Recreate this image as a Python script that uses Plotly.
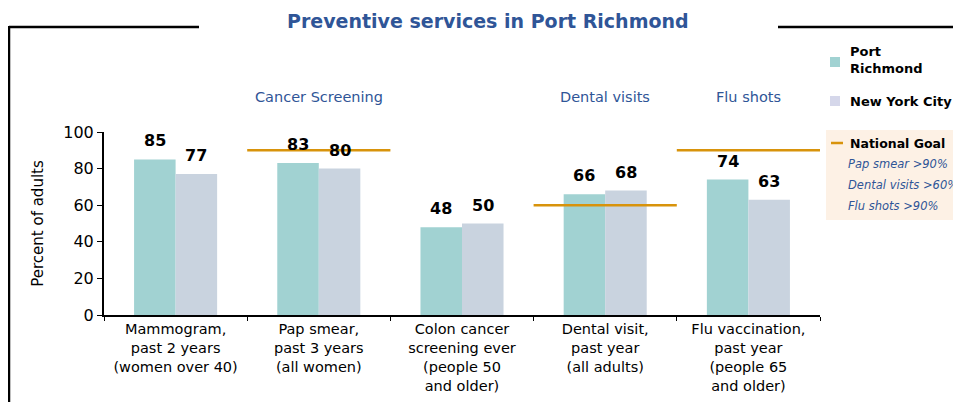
import plotly.graph_objects as go

categories = ["Mammogram,<br>past 2 years<br>(women over 40)",
              "Pap smear,<br>past 3 years<br>(all women)",
              "Colon cancer<br>screening ever<br>(people 50<br>and older)",
              "Dental visit,<br>past year<br>(all adults)",
              "Flu vaccination,<br>past year<br>(people 65<br>and older)"]
port_richmond = [85, 83, 48, 66, 74]
new_york_city = [77, 80, 50, 68, 63]
national_goal = [None, 90, None, 60, 90]
group_labels = ["Cancer Screening", "Dental visits", "Flu shots"]
group_centers = [1, 3, 4]
goal_items = ["Pap smear >90%", "Dental visits >60%", "Flu shots >90%"]

FONT = "DejaVu Sans"
TEAL = "#A1D2D2"
GREY = "#C9D3DF"
ORANGE = "#D8930B"
BLUE = "#2F5597"

W, H = 961, 402
OFF = 8  # page body margin
PL, PR, PT, PB = 104, 820, 132, 315  # plot area in screenshot pixels
BARGAP = 0.42

def px(x): return (x - PL) / (PR - PL)
def py(y): return (PB - y) / (PB - PT)

fig = go.Figure()
fig.add_trace(go.Bar(x=categories, y=port_richmond, name="Port Richmond",
                     marker=dict(color=TEAL, line=dict(width=0))))
fig.add_trace(go.Bar(x=categories, y=new_york_city, name="New York City",
                     marker=dict(color=GREY, line=dict(width=0))))

shapes = []
for i, g in enumerate(national_goal):
    if g is not None:
        shapes.append(dict(type="line", xref="x", yref="y", x0=i - 0.5, x1=i + 0.5,
                           y0=g, y1=g, line=dict(color=ORANGE, width=2.5)))

shapes += [
    dict(type="line", xref="paper", yref="paper", x0=px(9), x1=px(199), y0=py(27), y1=py(27),
         line=dict(color="black", width=2.5)),
    dict(type="line", xref="paper", yref="paper", x0=px(9), x1=px(9), y0=py(26), y1=py(420),
         line=dict(color="black", width=2.5)),
    dict(type="line", xref="paper", yref="paper", x0=px(778), x1=px(970), y0=py(27), y1=py(27),
         line=dict(color="black", width=2.5)),
    dict(type="rect", xref="paper", yref="paper", x0=px(830), x1=px(840), y0=py(67), y1=py(57),
         fillcolor=TEAL, line=dict(width=0)),
    dict(type="rect", xref="paper", yref="paper", x0=px(830), x1=px(840), y0=py(106), y1=py(96),
         fillcolor="#D5D7EA", line=dict(width=0)),
    dict(type="rect", xref="paper", yref="paper", x0=px(826), x1=px(975), y0=py(130), y1=py(220),
         fillcolor="#FDF1E5", line=dict(width=0), layer="below"),
    dict(type="line", xref="paper", yref="paper", x0=px(831), x1=px(843), y0=py(143), y1=py(143),
         line=dict(color=ORANGE, width=2.5)),
]

# value labels above bars
cat_px = (PR - PL) / len(categories)
half = cat_px * (1 - BARGAP) / 4
annotations = []
for series, sh in ((port_richmond, -half), (new_york_city, half)):
    for c, v in zip(categories, series):
        annotations.append(dict(text="<b>%d</b>" % v, x=c, y=v, xref="x", yref="y",
                                xshift=sh, yshift=7, showarrow=False, xanchor="center",
                                yanchor="bottom",
                                font=dict(family=FONT, size=16, color="black")))

annotations.append(
    dict(text="<b>Preventive services in Port Richmond</b>", x=px(488), y=py(21),
         xref="paper", yref="paper", showarrow=False, xanchor="center", yanchor="middle",
         font=dict(family=FONT, size=19, color=BLUE)))
for lab, c in zip(group_labels, group_centers):
    annotations.append(dict(text=lab, x=c, y=py(97), xref="x", yref="paper", showarrow=False,
                            xanchor="center", yanchor="middle",
                            font=dict(family=FONT, size=14.5, color=BLUE)))
annotations += [
    dict(text="<b>Port<br>Richmond</b>", x=px(848), y=py(60), xref="paper", yref="paper",
         showarrow=False, xanchor="left", yanchor="middle", align="left",
         font=dict(family=FONT, size=13, color="black")),
    dict(text="<b>New York City</b>", x=px(848), y=py(101), xref="paper", yref="paper",
         showarrow=False, xanchor="left", yanchor="middle", align="left",
         font=dict(family=FONT, size=13, color="black")),
    dict(text="<b>National Goal</b>", x=px(848), y=py(143), xref="paper", yref="paper",
         showarrow=False, xanchor="left", yanchor="middle", align="left",
         font=dict(family=FONT, size=12.5, color="black")),
]
for k, item in enumerate(goal_items):
    annotations.append(dict(text="<i>" + item + "</i>", x=px(846), y=py(164 + 21 * k),
                            xref="paper", yref="paper", showarrow=False, xanchor="left",
                            yanchor="middle", font=dict(family=FONT, size=11.5, color=BLUE)))

fig.update_layout(
    width=W, height=H,
    margin=dict(l=PL - OFF, r=W - (PR - OFF), t=PT - OFF, b=H - (PB - OFF), autoexpand=False),
    paper_bgcolor="white", plot_bgcolor="white",
    barmode="group", bargap=BARGAP, bargroupgap=0,
    showlegend=False,
    shapes=shapes, annotations=annotations,
    font=dict(family=FONT, color="black"),
)
fig.update_xaxes(showline=True, linecolor="black", linewidth=2, ticks="outside",
                 tickson="boundaries", ticklen=4, tickcolor="black",
                 tickfont=dict(family=FONT, size=14.5, color="black"), tickangle=0,
                 showgrid=False, range=[-0.5, 4.5], automargin=False)
fig.update_yaxes(range=[0, 100], dtick=20, showline=True, linecolor="black", linewidth=2,
                 ticks="outside", ticklen=5, tickcolor="black", showgrid=False, zeroline=False,
                 tickfont=dict(family=FONT, size=16, color="black"), automargin=False,
                 title=dict(text="Percent of adults", font=dict(family=FONT, size=15), standoff=16))

fig.write_html("out.html")
